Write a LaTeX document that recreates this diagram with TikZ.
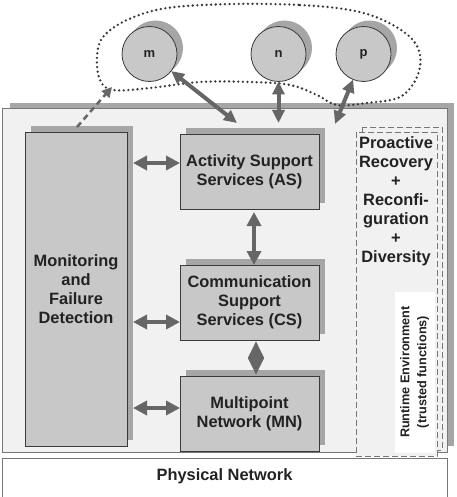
\documentclass[tikz,border=0pt]{standalone}
\usepackage{fontspec}
\setmainfont{Liberation Sans}
\usetikzlibrary{arrows.meta,shadows}
\definecolor{boxgray}{HTML}{C8C8C8}
\definecolor{shgray}{HTML}{A6A6A6}
\definecolor{arrgray}{HTML}{666666}
\definecolor{bordergray}{HTML}{3A3A3A}
\definecolor{textdark}{HTML}{222222}
\definecolor{bggray}{HTML}{F1F1F1}
\definecolor{linegray}{HTML}{777777}
\begin{document}
\begin{tikzpicture}[x=1pt,y=-1pt,
  box/.style={draw=bordergray, line width=0.8pt, fill=boxgray, inner sep=0pt, outer sep=0pt,
    align=center, font=\fontsize{16.4}{19}\selectfont\bfseries, text=textdark,
    copy shadow={shadow xshift=6pt, shadow yshift=6pt, fill=shgray, draw=none}},
  disc/.style={circle, draw=bordergray, line width=0.8pt, fill=boxgray, inner sep=0pt, outer sep=0pt,
    minimum size=55pt, font=\fontsize{13}{15}\selectfont\bfseries, text=textdark,
    copy shadow={shadow xshift=6pt, shadow yshift=6pt, fill=shgray, draw=none}},
  dbl/.style={draw=arrgray, line width=4pt, {Triangle[length=14pt,width=14pt]}-{Triangle[length=14pt,width=14pt]}},
  dsharrow/.style={draw=arrgray, line width=2.5pt, dash pattern=on 6pt off 4pt, -{Triangle[length=10pt,width=10pt]}},
  dashbox/.style={draw=linegray, line width=0.8pt, dash pattern=on 6pt off 3pt},
  plain/.style={font=\fontsize{16.4}{19}\selectfont\bfseries, text=textdark, align=center, inner sep=0pt}
]
\useasboundingbox (0,0) rectangle (456,497);

% outer runtime box with shadow
\fill[shgray] (10,103) rectangle (454,446);
\draw[draw=linegray, line width=0.8pt, fill=bggray] (2,108) rectangle (447,452);

% physical network
\draw[draw=linegray, line width=0.8pt] (2,497) -- (2,458) -- (447,458) -- (447,497);
\node[plain] (phys) at (224.5,476) {Physical Network};

% right dashed boxes
\draw[dashbox] (362,127) rectangle (442,450);
\draw[dashbox, fill=bggray] (356,132) rectangle (437,456);
\fill[white] (395,292) rectangle (435,453);
\node[plain, anchor=north] (pro) at (396,136) {Proactive\\Recovery\\+\\Reconfi-\\guration\\+\\Diversity};
\node[rotate=90, align=center, inner sep=0pt, text=textdark,
  font=\fontsize{12.7}{17}\selectfont\bfseries] (rte) at (414.5,372) {Runtime Environment\\(trusted functions)};

% dotted loop
\draw[draw=bordergray, line width=2.6pt, line cap=round, dash pattern=on 0pt off 4.6pt]
  plot[smooth cycle, tension=0.6] coordinates {
  (233,4) (300,5) (350,10) (383,20) (410,37) (420,55) (417,77) (400,97) (367,103)
  (337,105) (317,95) (290,85) (250,82) (200,82) (150,88) (113,90) (100,80) (97,57)
  (103,37) (127,20) (167,8)};

% circles
\node[disc] (m) at (149.5,54) {m};
\node[disc] (n) at (278.5,54) {n};
\node[disc] (p) at (363.5,54) {p};

% boxes
\node[box, minimum width=102pt, minimum height=314pt] (mon) at (76,289) {Monitoring\\and\\Failure\\Detection};
\node[box, minimum width=139pt, minimum height=75pt] (as) at (249.5,171.5) {Activity Support\\Services (AS)};
\node[box, minimum width=139pt, minimum height=75pt] (cs) at (249.5,302.5) {Communication\\Support\\Services (CS)};
\node[box, minimum width=139pt, minimum height=75pt] (mn) at (249.5,413.5) {Multipoint\\Network (MN)};

% free-end coordinates
\coordinate (mend) at (237,123);
\coordinate (nend) at (278.5,123);
\coordinate (pend) at (335,124);
\coordinate (dstart) at (77,127);
\coordinate (dend) at (112,87);

% connectors
\draw[dsharrow] (dstart) -- (dend);
\draw[dbl, {Triangle[length=13pt,width=12pt]}-{Triangle[length=13pt,width=12pt]}] (m) -- (mend);
\draw[dbl, {Triangle[length=13pt,width=12pt]}-{Triangle[length=13pt,width=12pt]}] (n) -- (nend);
\draw[dbl, {Triangle[length=13pt,width=12pt]}-{Triangle[length=13pt,width=12pt]}] (p) -- (pend);

\draw[dbl] ([yshift=8.5pt]as.west) -- ([yshift=8.5pt,xshift=6pt]as.west -| mon.east);
\draw[dbl] ([yshift=-19.5pt]cs.west) -- ([yshift=-19.5pt,xshift=6pt]cs.west -| mon.east);
\draw[dbl] ([yshift=5.5pt]mn.west) -- ([yshift=5.5pt,xshift=6pt]mn.west -| mon.east);

\draw[dbl] ([xshift=4.5pt,yshift=-3pt]as.south) -- ([xshift=4.5pt]cs.north);
\draw[dbl, {Triangle[length=17pt,width=15pt]}-{Triangle[length=17pt,width=15pt]}] ([xshift=6.5pt,yshift=-1pt]cs.south) -- ([xshift=6.5pt,yshift=1pt]mn.north);
\end{tikzpicture}
\end{document}
